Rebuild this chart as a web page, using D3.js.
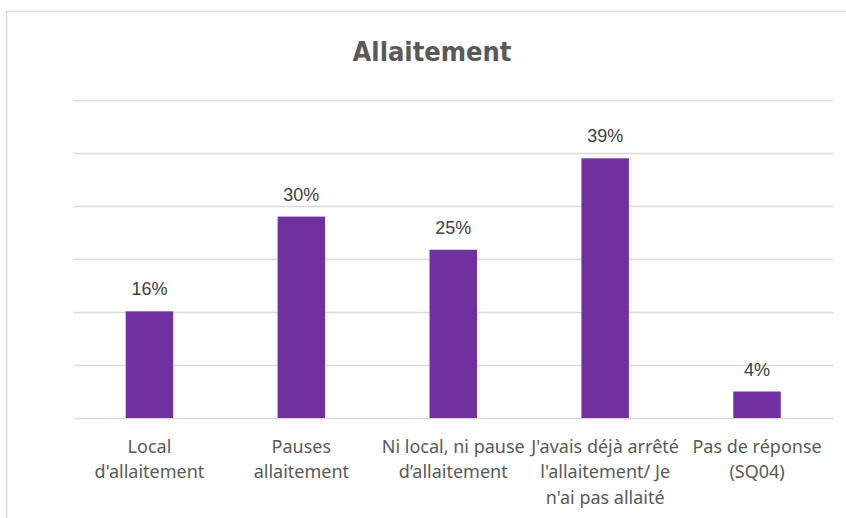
<!DOCTYPE html>
<html><head><meta charset="utf-8">
<script src="https://cdn.jsdelivr.net/npm/d3@7"></script>
<style>
html,body{margin:0;padding:0;background:#fff;}
svg{display:block;}
</style></head>
<body>
<script>
const title = "Allaitement";
const categories = [
  "Local\nd'allaitement",
  "Pauses\nallaitement",
  "Ni local, ni pause\nd’allaitement",
  "J'avais déjà arrêté\nl'allaitement/ Je\nn'ai pas allaité",
  "Pas de réponse\n(SQ04)"
];
const values = [0.161, 0.304, 0.254, 0.392, 0.040];
const gridTicks = [0, 0.08, 0.16, 0.24, 0.32, 0.40, 0.48];

const W = 846, H = 518;
const margin = {left: 73.5, right: 13, top: 100, bottom: 100};
const svg = d3.select("body").append("svg").attr("width", W).attr("height", H);

svg.append("rect").attr("x", 6.5).attr("y", 11.5).attr("width", W + 10).attr("height", H + 10)
  .attr("fill", "#fff").attr("stroke", "#d9d9d9").attr("stroke-width", 1.5);

const x = d3.scaleBand().domain(categories).range([margin.left, W - margin.right])
  .paddingInner(0.6875).paddingOuter(0.34375);
const y = d3.scaleLinear().domain([0, 0.48]).range([418, 100]);

svg.append("text").attr("x", 432).attr("y", 61).attr("text-anchor", "middle")
  .attr("font-family", "'DejaVu Sans Condensed', 'DejaVu Sans', sans-serif")
  .attr("font-stretch", "condensed").attr("font-weight", "bold")
  .attr("font-size", 27).attr("fill", "#595959").text(title);

const grid = svg.append("g").attr("class", "grid")
  .attr("transform", `translate(${margin.left},0)`)
  .call(d3.axisLeft(y).tickValues(gridTicks).tickSize(-(W - margin.right - margin.left)).tickFormat(""));
grid.select(".domain").remove();
grid.selectAll("line").attr("stroke", "#d9d9d9").attr("stroke-width", 1.5);

svg.append("g").selectAll("rect").data(values).join("rect")
  .attr("x", (d, i) => x(categories[i]))
  .attr("width", x.bandwidth())
  .attr("y", d => y(d))
  .attr("height", d => y(0) - y(d))
  .attr("fill", "#7030a0");

svg.append("g").selectAll("text").data(values).join("text")
  .attr("x", (d, i) => x(categories[i]) + x.bandwidth() / 2)
  .attr("y", d => y(d) - 16)
  .attr("text-anchor", "middle")
  .attr("font-family", "'Liberation Sans', Arial, sans-serif")
  .attr("font-size", 18).attr("fill", "#404040")
  .text(d => Math.round(d * 100) + "%");

const xAxis = svg.append("g").attr("transform", `translate(0,${y(0)})`)
  .call(d3.axisBottom(x).tickSize(0).tickFormat(""));
xAxis.select(".domain").remove();
xAxis.selectAll(".tick").each(function(d) {
  const lines = d.split("\n");
  const t = d3.select(this).append("text")
    .attr("text-anchor", "middle")
    .attr("font-family", "'Noto Sans', sans-serif")
    .attr("font-size", 18).attr("fill", "#595959");
  lines.forEach((l, i) => t.append("tspan").attr("x", 0).attr("y", 34.5 + i * 25.5).text(l));
});
</script>
</body></html>
